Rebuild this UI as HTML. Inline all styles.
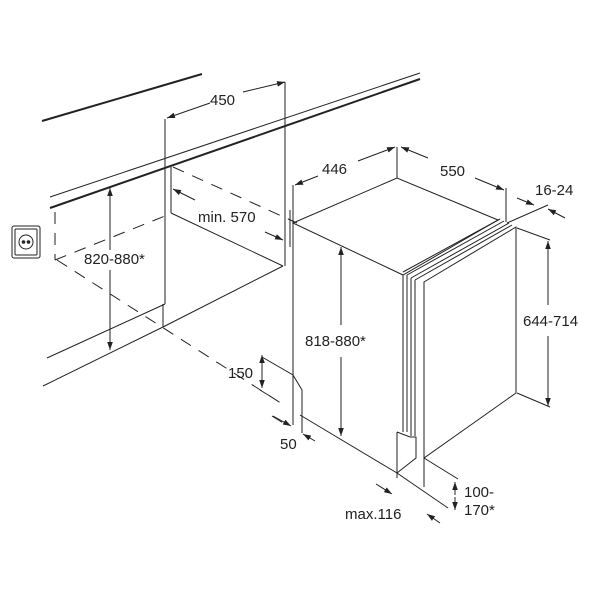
<!DOCTYPE html>
<html><head><meta charset="utf-8"><style>
html,body{margin:0;padding:0;background:#fff;}
svg{display:block;}
text{font-family:"Liberation Sans",Arial,sans-serif;font-size:15px;fill:#222;}
</style></head><body>
<svg width="600" height="600" viewBox="0 0 600 600" xmlns="http://www.w3.org/2000/svg">
<defs>
<marker id="a" viewBox="0 0 10 10" refX="10" refY="5" markerWidth="8" markerHeight="8" orient="auto-start-reverse" markerUnits="userSpaceOnUse"><path d="M0,1.5 L10,5 L0,8.5 z" fill="#222"/></marker>
</defs>
<g stroke="#222" fill="none" stroke-width="1">
<line x1="42" y1="121" x2="202" y2="74" stroke-width="2"/>
<line x1="50" y1="197" x2="420" y2="73"/>
<line x1="50" y1="208" x2="420" y2="79" stroke-width="2"/>
<!-- left cabinet -->
<line x1="165" y1="119" x2="165" y2="304"/>
<line x1="163" y1="304" x2="163" y2="327"/>
<line x1="171" y1="167" x2="171" y2="213"/>
<line x1="171" y1="213" x2="283" y2="266"/>
<line x1="285" y1="82" x2="285" y2="266"/>
<line x1="290" y1="210" x2="290" y2="247"/>
<line x1="163" y1="327" x2="283" y2="266"/>
<line x1="43" y1="386" x2="163" y2="327"/>
<line x1="47" y1="358" x2="165" y2="304"/>
<!-- dashed -->
<g stroke-dasharray="12,9">
<line x1="55" y1="212" x2="55" y2="260"/>
<line x1="55" y1="260" x2="165" y2="216"/>
<line x1="57" y1="260" x2="287" y2="407"/>
<line x1="173" y1="167" x2="297" y2="223"/>
<line x1="260" y1="390" x2="278" y2="401"/>
<line x1="272" y1="416" x2="288" y2="426"/>
</g>
<!-- socket -->
<rect x="12" y="226" width="28" height="32" rx="2"/>
<rect x="15" y="229" width="22" height="26" rx="1"/>
<circle cx="26" cy="242" r="7"/>
<circle cx="23.5" cy="242" r="1.3" fill="#222"/>
<circle cx="28.5" cy="242" r="1.3" fill="#222"/>
<!-- dishwasher body -->
<polygon points="293,223 397,178 498,220 403,275"/>
<line x1="293" y1="223" x2="293" y2="425"/>
<line x1="300" y1="415" x2="397" y2="473"/>
<line x1="403" y1="275" x2="403" y2="432"/>
<line x1="403" y1="272" x2="500" y2="219"/>
<line x1="407" y1="275" x2="504" y2="221"/>
<line x1="411" y1="278" x2="509" y2="223"/>
<line x1="415" y1="280" x2="512" y2="225"/>
<line x1="407" y1="275" x2="407" y2="432"/>
<line x1="411" y1="278" x2="411" y2="436"/>
<line x1="415" y1="280" x2="415" y2="436"/>
<polygon points="424,282 516,227 516,393 424,458"/>
<line x1="424" y1="458" x2="424" y2="487"/>
<polyline points="397,432 410,437 416,437 416,458 397,473"/>
<line x1="397" y1="432" x2="397" y2="478"/>
<!-- plinth profile -->
<polyline points="262,357 293,375 302,390 302,433"/>
<!-- dims -->
<line x1="210" y1="103" x2="167" y2="118" marker-end="url(#a)"/>
<line x1="243" y1="92" x2="285" y2="82" marker-end="url(#a)"/>
<line x1="110" y1="250" x2="110" y2="188" marker-end="url(#a)"/>
<line x1="110" y1="270" x2="110" y2="350" marker-end="url(#a)"/>
<line x1="195" y1="200" x2="173" y2="189" marker-end="url(#a)"/>
<line x1="265" y1="232" x2="283" y2="240" marker-end="url(#a)"/>
<line x1="293" y1="185" x2="293" y2="223"/>
<line x1="397" y1="147" x2="397" y2="178"/>
<line x1="318" y1="176" x2="295" y2="185" marker-end="url(#a)"/>
<line x1="358" y1="161" x2="395" y2="147" marker-end="url(#a)"/>
<line x1="428" y1="158" x2="401" y2="147" marker-end="url(#a)"/>
<line x1="475" y1="178" x2="504" y2="190" marker-end="url(#a)"/>
<line x1="506" y1="188" x2="506" y2="222"/>
<line x1="517" y1="198" x2="534" y2="205" marker-end="url(#a)"/>
<line x1="565" y1="218" x2="548" y2="209" marker-end="url(#a)"/>
<line x1="507" y1="223" x2="548" y2="205"/>
<line x1="517" y1="228" x2="550" y2="240"/>
<line x1="517" y1="393" x2="550" y2="407"/>
<line x1="548" y1="305" x2="548" y2="241" marker-end="url(#a)"/>
<line x1="548" y1="336" x2="548" y2="406" marker-end="url(#a)"/>
<line x1="341" y1="325" x2="341" y2="247" marker-end="url(#a)"/>
<line x1="341" y1="357" x2="341" y2="436" marker-end="url(#a)"/>
<line x1="262" y1="372" x2="262" y2="355" marker-end="url(#a)"/>
<line x1="262" y1="372" x2="262" y2="388" marker-end="url(#a)"/>
<line x1="273" y1="416" x2="291" y2="426" marker-end="url(#a)"/>
<line x1="315" y1="441" x2="303" y2="434" marker-end="url(#a)"/>
<line x1="376" y1="484" x2="392" y2="494" marker-end="url(#a)"/>
<line x1="397" y1="473" x2="448" y2="508"/>
<line x1="424" y1="458" x2="458" y2="479"/>
<line x1="455" y1="495" x2="455" y2="482" marker-end="url(#a)"/>
<line x1="455" y1="497" x2="455" y2="510" marker-end="url(#a)"/>
<line x1="440" y1="523" x2="427" y2="514" marker-end="url(#a)"/>
</g>
<text x="210" y="105">450</text>
<text x="84" y="264">820-880*</text>
<text x="198" y="222">min. 570</text>
<text x="322" y="174">446</text>
<text x="440" y="176">550</text>
<text x="535" y="195">16-24</text>
<text x="523" y="326">644-714</text>
<text x="305" y="346">818-880*</text>
<text x="228" y="378">150</text>
<text x="280" y="449">50</text>
<text x="345" y="519">max.116</text>
<text x="464" y="497">100-</text>
<text x="464" y="515">170*</text>
</svg>
</body></html>
